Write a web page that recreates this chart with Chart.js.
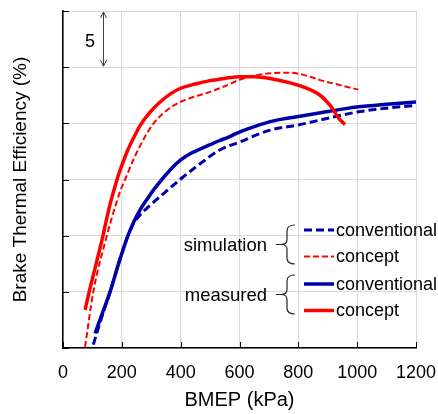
<!DOCTYPE html>
<html>
<head>
<meta charset="utf-8">
<script src="https://cdn.jsdelivr.net/npm/chart.js@4.4.0/dist/chart.umd.min.js"></script>
<style>
  html, body { margin: 0; padding: 0; background: #fff; }
  #wrap { width: 438px; height: 414px; }
</style>
</head>
<body>
<div id="wrap"><canvas id="bte"></canvas></div>
<script>
var FONT = "'Liberation Sans', Arial, sans-serif";
var BLUE = '#0000a8', RED = '#ff0000';

// BMEP (kPa) / efficiency (y only relative, 5 % per grid step)
var measConceptX = [75, 89, 136, 150, 163, 177, 191, 205, 220, 238, 262, 296, 330, 364, 398, 450, 500, 550, 602, 650, 704, 772, 840, 874, 908, 942, 959];
var measConceptY = [13.4, 15.0, 20.0, 21.7, 23.1, 24.4, 25.6, 26.6, 27.6, 28.6, 29.8, 31.0, 31.9, 32.6, 33.1, 33.5, 33.8, 34.0, 34.15, 34.15, 34.0, 33.6, 33.0, 32.5, 31.6, 30.3, 29.9];

var measConvX = [109, 135, 160, 190, 218, 240, 262, 290, 313, 364, 398, 432, 466, 500, 531, 565, 602, 650, 704, 750, 800, 900, 999, 1100, 1200];
var measConvY = [11.3, 13.2, 15.0, 17.6, 19.8, 21.2, 22.3, 23.4, 24.25, 25.85, 26.7, 27.3, 27.7, 28.1, 28.45, 28.8, 29.25, 29.7, 30.15, 30.4, 30.6, 31.05, 31.45, 31.7, 31.9];

var simConceptX = [75, 103, 149, 165, 180, 195, 211, 240, 270, 308, 350, 398, 450, 500, 550, 602, 650, 704, 772, 840, 874, 942, 1004];
var simConceptY = [10.1, 15.0, 20.0, 21.5, 22.8, 24.0, 25.0, 26.8, 28.4, 30.0, 31.1, 31.9, 32.4, 32.8, 33.3, 33.9, 34.25, 34.45, 34.5, 34.15, 33.85, 33.4, 33.0];

var simConvX = [103, 130, 160, 190, 218, 240, 262, 292, 353, 398, 466, 531, 602, 704, 800, 900, 999, 1100, 1200];
var simConvY = [10.3, 12.6, 15.0, 17.6, 19.8, 21.1, 21.85, 22.6, 24.0, 25.0, 26.4, 27.6, 28.35, 29.4, 29.85, 30.45, 31.0, 31.35, 31.6];

var xMin = 0, xMax = 1200, xStep = 200;
var yMin = 10, yMax = 40, yStep = 5;

var groupLabels = ['simulation', 'measured'];

function pts(xs, ys) {
  return xs.map(function (x, i) { return { x: x, y: ys[i] }; });
}

function drawBrace(ctx, xr, yTop, yBot) {
  var xv = xr - 8, xt = xr - 19, ym = (yTop + yBot) / 2;
  ctx.beginPath();
  ctx.moveTo(xr, yTop);
  ctx.quadraticCurveTo(xv, yTop, xv, yTop + 6);
  ctx.lineTo(xv, ym - 5);
  ctx.quadraticCurveTo(xv, ym, xv - 6, ym);
  ctx.lineTo(xt, ym);
  ctx.moveTo(xv - 6, ym);
  ctx.quadraticCurveTo(xv, ym, xv, ym + 5);
  ctx.lineTo(xv, yBot - 6);
  ctx.quadraticCurveTo(xv, yBot, xr, yBot);
  ctx.stroke();
}

var extras = {
  id: 'extras',
  afterDraw: function (chart) {
    var ctx = chart.ctx, xs = chart.scales.x, ys = chart.scales.y, a = chart.chartArea;
    ctx.save();

    // inward tick marks
    ctx.strokeStyle = '#000';
    ctx.lineWidth = 1;
    xs.ticks.forEach(function (t) {
      var px = Math.round(xs.getPixelForValue(t.value)) + 0.5;
      ctx.beginPath(); ctx.moveTo(px, a.bottom); ctx.lineTo(px, a.bottom - 6); ctx.stroke();
    });
    ys.ticks.forEach(function (t) {
      var py = Math.round(ys.getPixelForValue(t.value)) + 0.5;
      ctx.beginPath(); ctx.moveTo(a.left, py); ctx.lineTo(a.left + 6, py); ctx.stroke();
    });

    // "5" scale arrow over one grid step
    var ax = Math.round(xs.getPixelForValue(137)) + 0.5;
    var y1 = ys.getPixelForValue(yMax) + 1, y2 = ys.getPixelForValue(yMax - yStep) - 1;
    ctx.strokeStyle = '#404040';
    ctx.beginPath();
    ctx.moveTo(ax, y1); ctx.lineTo(ax, y2);
    ctx.moveTo(ax - 3, y1 + 6); ctx.lineTo(ax, y1); ctx.lineTo(ax + 3, y1 + 6);
    ctx.moveTo(ax - 3, y2 - 6); ctx.lineTo(ax, y2); ctx.lineTo(ax + 3, y2 - 6);
    ctx.stroke();
    ctx.fillStyle = '#000';
    ctx.font = '18px ' + FONT;
    ctx.textAlign = 'center';
    ctx.textBaseline = 'middle';
    ctx.fillText(String(yStep), 90, 42);

    // legend
    var ds = chart.data.datasets;
    var order = [3, 2, 1, 0];
    var rowY = [230, 256.5, 284, 310.5];
    ctx.textAlign = 'left';
    order.forEach(function (di, i) {
      var d = ds[di];
      ctx.strokeStyle = d.borderColor;
      ctx.lineWidth = d.borderWidth;
      ctx.setLineDash(d.borderDash || []);
      ctx.beginPath(); ctx.moveTo(304, rowY[i]); ctx.lineTo(334, rowY[i]); ctx.stroke();
      ctx.setLineDash([]);
      ctx.fillStyle = '#000';
      ctx.font = '18px ' + FONT;
      ctx.fillText(d.label, 336, rowY[i] + 1);
    });

    // group braces
    ctx.strokeStyle = '#222';
    ctx.lineWidth = 1.2;
    drawBrace(ctx, 295, 225, 264);
    drawBrace(ctx, 295, 275, 314);
    ctx.fillStyle = '#000';
    ctx.font = '18.5px ' + FONT;
    ctx.textAlign = 'right';
    ctx.fillText(groupLabels[0], 267, 246);
    ctx.fillText(groupLabels[1], 267, 296);

    ctx.restore();
  }
};

new Chart(document.getElementById('bte'), {
  type: 'line',
  data: {
    datasets: [
      { label: 'concept', data: pts(measConceptX, measConceptY), borderColor: RED, borderWidth: 3.5 },
      { label: 'conventional', data: pts(measConvX, measConvY), borderColor: BLUE, borderWidth: 3.5 },
      { label: 'concept', data: pts(simConceptX, simConceptY), borderColor: RED, borderWidth: 2, borderDash: [6, 3] },
      { label: 'conventional', data: pts(simConvX, simConvY), borderColor: BLUE, borderWidth: 3, borderDash: [8, 4] }
    ]
  },
  options: {
    responsive: true,
    maintainAspectRatio: false,
    animation: false,
    devicePixelRatio: 1,
    layout: { padding: { top: 11, right: 22, left: 0, bottom: 0 } },
    elements: {
      point: { radius: 0 },
      line: { cubicInterpolationMode: 'monotone', fill: false }
    },
    plugins: { legend: { display: false }, tooltip: { enabled: false } },
    scales: {
      x: {
        type: 'linear', min: xMin, max: xMax,
        ticks: {
          stepSize: xStep, color: '#000', font: { family: FONT, size: 18 }, padding: 14, maxRotation: 0,
          callback: function (v) { return String(v); }
        },
        grid: { color: '#d9d9d9', drawTicks: false },
        border: { color: '#000', width: 1.5 },
        title: { display: true, text: 'BMEP (kPa)', color: '#000', font: { family: FONT, size: 20, lineHeight: 1 }, padding: { top: 0, bottom: 4 } },
        afterFit: function (s) { s.height = 66; s.paddingLeft = 0; s.paddingRight = 0; }
      },
      y: {
        type: 'linear', min: yMin, max: yMax,
        ticks: { stepSize: yStep, display: false },
        grid: { color: '#d9d9d9', drawTicks: false },
        border: { color: '#000', width: 1.5 },
        title: { display: true, text: 'Brake Thermal Efficiency (%)', color: '#000', font: { family: FONT, size: 19, lineHeight: 1 }, padding: { top: 11, bottom: 0 } },
        afterFit: function (s) { s.width = 63; s.paddingTop = 0; s.paddingBottom = 0; }
      }
    }
  },
  plugins: [extras]
});
</script>
</body>
</html>
